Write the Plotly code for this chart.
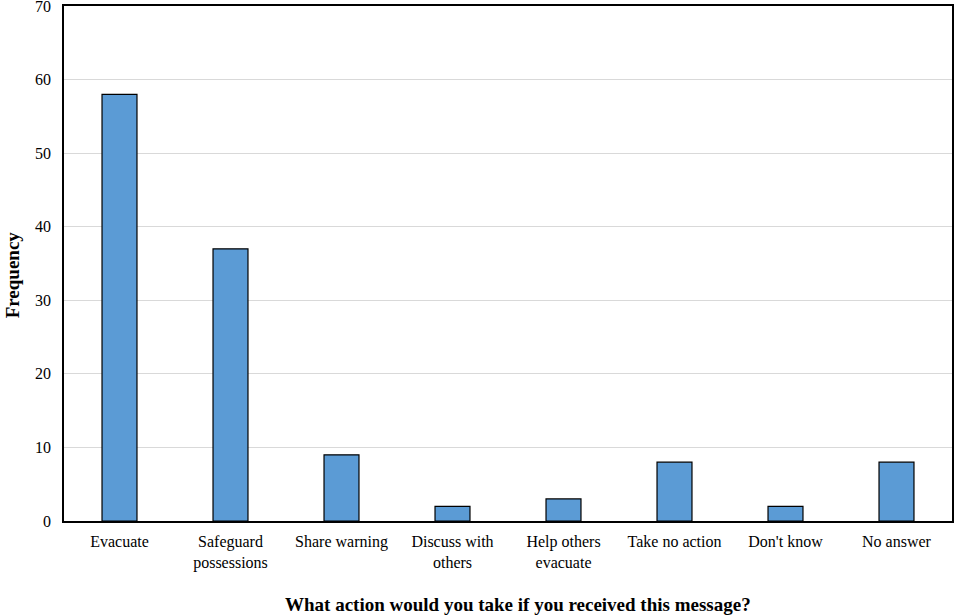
import plotly.graph_objects as go

categories = ["Evacuate", "Safeguard<br>possessions", "Share warning", "Discuss with<br>others",
              "Help others<br>evacuate", "Take no action", "Don't know", "No answer"]
frequency = [58, 37, 9, 2, 3, 8, 2, 8]
y_ticks = [0, 10, 20, 30, 40, 50, 60, 70]

font_family = "Liberation Serif, Times New Roman, serif"

fig = go.Figure(go.Bar(
    x=categories, y=frequency,
    marker=dict(color="#5B9BD5", line=dict(color="black", width=1.2)),
))

fig.update_layout(
    width=955, height=616,
    margin=dict(l=64, r=3, t=6, b=95),
    plot_bgcolor="white", paper_bgcolor="white",
    bargap=0.685,
    font=dict(family=font_family, size=16, color="black"),
    showlegend=False,
    annotations=[
        dict(text="<b>What action would you take if you received this message?</b>",
             xref="paper", yref="paper", x=0.511, y=0, yshift=-83,
             xanchor="center", yanchor="middle", showarrow=False,
             font=dict(size=19)),
        dict(text="<b>Frequency</b>", textangle=-90,
             xref="paper", yref="paper", x=0, xshift=-52, y=0.477,
             xanchor="center", yanchor="middle", showarrow=False,
             font=dict(size=19)),
    ],
)
fig.update_xaxes(
    automargin=False,
    showline=True, linecolor="black", linewidth=1.5, mirror=True,
    ticks="outside", ticklen=5, tickcolor="rgba(0,0,0,0)",
    tickfont=dict(size=16),
)
fig.update_yaxes(
    automargin=False,
    range=[0, 70], tickvals=y_ticks, ticklabeloverflow="allow",
    showline=True, linecolor="black", linewidth=1.5, mirror=True,
    showgrid=True, gridcolor="#d9d9d9", gridwidth=1,
    ticks="outside", ticklen=8, tickcolor="rgba(0,0,0,0)",
    tickfont=dict(size=16),
    zeroline=False,
)

fig.write_html("out.html", config={"displayModeBar": False},
               post_script="document.body.style.margin='0';")
